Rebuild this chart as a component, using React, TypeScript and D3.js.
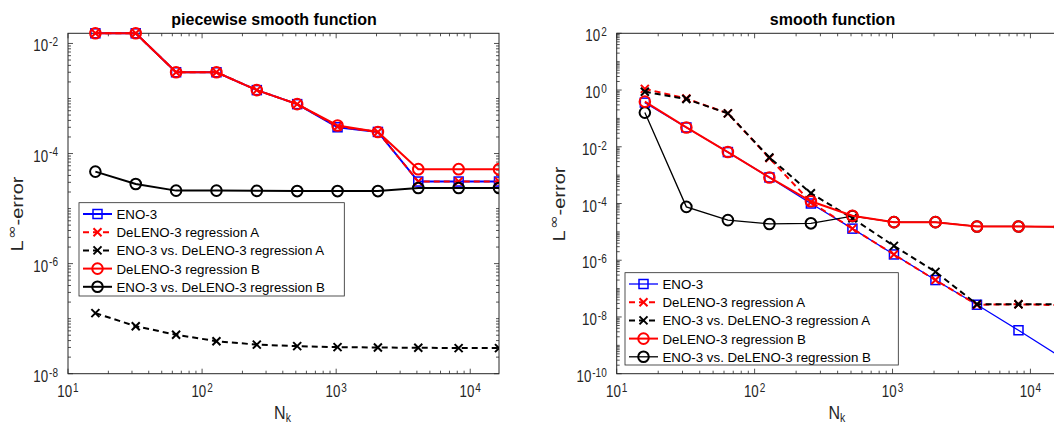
import React, { useEffect, useRef } from 'react';
import * as d3 from 'd3';

const W = 1054;
const H = 427;

const N = [16, 32, 64, 128, 256, 512, 1024, 2048, 4096, 8192, 16384];

const seriesNames = [
  'ENO-3',
  'DeLENO-3 regression A',
  'ENO-3 vs. DeLENO-3 regression A',
  'DeLENO-3 regression B',
  'ENO-3 vs. DeLENO-3 regression B',
];

// piecewise smooth function
const pwEno = [1.53e-2, 1.53e-2, 3.0e-3, 3.0e-3, 1.42e-3, 7.9e-4, 3.0e-4, 2.47e-4, 3.1e-5, 3.1e-5, 3.1e-5];
const pwRegA = [1.53e-2, 1.53e-2, 3.0e-3, 3.0e-3, 1.42e-3, 7.9e-4, 3.1e-4, 2.47e-4, 3.1e-5, 3.1e-5, 3.1e-5];
const pwDiffA = [1.26e-7, 7.3e-8, 5.1e-8, 3.9e-8, 3.37e-8, 3.17e-8, 3.04e-8, 2.99e-8, 2.96e-8, 2.92e-8, 2.92e-8];
const pwRegB = [1.53e-2, 1.53e-2, 3.0e-3, 3.0e-3, 1.42e-3, 7.9e-4, 3.24e-4, 2.47e-4, 5.2e-5, 5.2e-5, 5.2e-5];
const pwDiffB = [4.7e-5, 2.8e-5, 2.12e-5, 2.12e-5, 2.1e-5, 2.08e-5, 2.08e-5, 2.08e-5, 2.37e-5, 2.37e-5, 2.37e-5];

// smooth function
const smEno = [0.36, 0.048, 6.5e-3, 8.3e-4, 1.0e-4, 1.3e-5, 1.6e-6, 2.0e-7, 2.7e-8, 3.4e-9, 4.0e-10];
const smRegA = [1.1, 0.5, 0.15, 4.0e-3, 1.1e-4, 1.3e-5, 1.6e-6, 2.0e-7, 2.7e-8, 2.8e-8, 2.6e-8];
const smDiffA = [0.87, 0.48, 0.15, 4.2e-3, 2.3e-4, 3.0e-5, 3.2e-6, 3.9e-7, 2.8e-8, 2.8e-8, 2.8e-8];
const smRegB = [0.39, 0.048, 6.5e-3, 8.3e-4, 1.2e-4, 3.7e-5, 2.2e-5, 2.2e-5, 1.55e-5, 1.55e-5, 1.5e-5];
const smDiffB = [0.16, 7.6e-5, 2.6e-5, 1.9e-5, 2.0e-5, 3.6e-5, 2.2e-5, 2.2e-5, 1.55e-5, 1.55e-5, 1.5e-5];

const xTicks = [10, 100, 1000, 10000];
const pwYTicks = [1e-8, 1e-6, 1e-4, 1e-2];
const smYTicks = [1e-10, 1e-8, 1e-6, 1e-4, 1e-2, 1, 1e2];

const styles = [
  { color: '#0000ff', dash: null, marker: 'square' },
  { color: '#ff0000', dash: '6,4', marker: 'x' },
  { color: '#000000', dash: '6,4', marker: 'x' },
  { color: '#ff0000', dash: null, marker: 'circle' },
  { color: '#000000', dash: null, marker: 'circle' },
];
// drawing order (red circles on top of black circles)
const drawOrder = [0, 1, 2, 4, 3];

const AX = '#262626';
const FONT = '"Liberation Sans", Arial, Helvetica, sans-serif';

function drawMarker(g, kind, cx, cy, color) {
  if (kind === 'square') {
    g.append('rect').attr('x', cx - 4.5).attr('y', cy - 4.5).attr('width', 9).attr('height', 9)
      .attr('fill', 'none').attr('stroke', color).attr('stroke-width', 1.5);
  } else if (kind === 'circle') {
    g.append('circle').attr('cx', cx).attr('cy', cy).attr('r', 5.3)
      .attr('fill', 'none').attr('stroke', color).attr('stroke-width', 2);
  } else {
    g.append('path').attr('d', `M${cx - 4},${cy - 4}L${cx + 4},${cy + 4}M${cx - 4},${cy + 4}L${cx + 4},${cy - 4}`)
      .attr('fill', 'none').attr('stroke', color).attr('stroke-width', 2);
  }
}

function powLabel(g, x, y, v, anchor) {
  const e = Math.round(Math.log10(v));
  const t = g.append('g').attr('transform', `translate(${x},${y}) scale(1,1.3)`)
    .append('text').attr('text-anchor', anchor).attr('fill', AX)
    .attr('font-family', FONT).attr('font-size', 13.3);
  t.append('tspan').text('10');
  t.append('tspan').attr('font-size', 10).attr('dx', 1).attr('dy', -4).text(String(e));
}

function drawPanel(svg, cfg, idx) {
  const { x0, x1, y0, y1 } = cfg;
  const x = d3.scaleLog().domain([10, 16384]).range([x0, x1]);
  const y = d3.scaleLog().domain(cfg.yDomain).range([y1, y0]);

  const g = svg.append('g');
  const clipId = `clip${idx}`;
  g.append('clipPath').attr('id', clipId).append('rect')
    .attr('x', x0).attr('y', y0 - 8).attr('width', x1 - x0).attr('height', y1 - y0 + 16);

  // ticks
  const tg = g.append('g').attr('stroke', AX).attr('stroke-width', 0.8);
  const minorVals = (dom) => {
    const out = [];
    const k0 = Math.floor(Math.log10(dom[0]));
    const k1 = Math.ceil(Math.log10(dom[1]));
    for (let k = k0; k <= k1; k++) {
      for (let m = 1; m <= 9; m++) {
        const v = m * Math.pow(10, k);
        if (v >= dom[0] * 0.999 && v <= dom[1] * 1.001) out.push(v);
      }
    }
    return out;
  };
  const isMajor = (v, list) => list.some(t => Math.abs(Math.log10(t) - Math.log10(v)) < 1e-6);

  minorVals(x.domain()).forEach(v => {
    const len = isMajor(v, xTicks) ? 5 : 3;
    const px = x(v);
    tg.append('line').attr('x1', px).attr('x2', px).attr('y1', y1).attr('y2', y1 - len);
    tg.append('line').attr('x1', px).attr('x2', px).attr('y1', y0).attr('y2', y0 + len);
  });
  minorVals(y.domain()).forEach(v => {
    const len = isMajor(v, cfg.yTicks) ? 5 : 3;
    const py = y(v);
    tg.append('line').attr('y1', py).attr('y2', py).attr('x1', x0).attr('x2', x0 + len);
    tg.append('line').attr('y1', py).attr('y2', py).attr('x1', x1).attr('x2', x1 - len);
  });

  // box
  g.append('rect').attr('x', x0).attr('y', y0).attr('width', x1 - x0).attr('height', y1 - y0)
    .attr('fill', 'none').attr('stroke', AX).attr('stroke-width', 1);

  xTicks.forEach(v => powLabel(g, x(v), y1 + 23.3, v, 'middle'));
  cfg.yTicks.forEach(v => powLabel(g, x0 - 10, y(v) + 8, v, 'end'));

  // series
  const pg = g.append('g').attr('clip-path', `url(#${clipId})`);
  const line = d3.line().x(d => x(d[0])).y(d => y(d[1]));
  drawOrder.forEach(si => {
    const st = styles[si];
    const pts = N.map((n, i) => [n, cfg.series[si][i]]);
    pg.append('path').attr('d', line(pts)).attr('fill', 'none')
      .attr('stroke', st.color).attr('stroke-width', cfg.widths[si])
      .attr('stroke-dasharray', st.dash);
    pts.forEach(p => drawMarker(pg, st.marker, x(p[0]), y(p[1]), st.color));
  });

  // title
  g.append('text').attr('x', cfg.titleX).attr('y', 25).attr('text-anchor', 'middle')
    .attr('font-family', FONT).attr('font-size', 16).attr('font-weight', 'bold').attr('fill', '#000')
    .text(cfg.title);

  // y label
  const yl = g.append('g').attr('transform', `translate(${cfg.ylabelX},${cfg.ylabelY}) scale(1,1.25) rotate(-90)`)
    .append('text').attr('text-anchor', 'middle').attr('font-family', FONT).attr('font-size', 16).attr('fill', AX);
  yl.append('tspan').text('L');
  yl.append('tspan').attr('font-family', '"DejaVu Sans", sans-serif').attr('font-size', 13)
    .attr('dx', 1).attr('dy', -7).text('∞');
  yl.append('tspan').attr('dy', 7).text('-error');

  // x label
  const xl = g.append('g').attr('transform', `translate(${(x0 + Math.min(x1, W)) / 2 + cfg.xlabelDx},418.5) scale(1,1.2)`)
    .append('text').attr('text-anchor', 'middle').attr('font-family', FONT).attr('font-size', 16).attr('fill', AX);
  xl.append('tspan').text('N');
  xl.append('tspan').attr('font-size', 10.5).attr('dy', 3).text('k');

  // legend
  const L = cfg.legend;
  const lg = g.append('g');
  lg.append('rect').attr('x', L.x).attr('y', L.y).attr('width', L.w).attr('height', L.h)
    .attr('fill', '#fff').attr('stroke', AX).attr('stroke-width', 0.8);
  seriesNames.forEach((name, i) => {
    const st = styles[i];
    const cy = L.y + 11.3 + i * 18.2;
    lg.append('line').attr('x1', L.x + 4).attr('x2', L.x + 33).attr('y1', cy).attr('y2', cy)
      .attr('stroke', st.color).attr('stroke-width', cfg.widths[i]).attr('stroke-dasharray', st.dash);
    drawMarker(lg, st.marker, L.x + 18.5, cy, st.color);
    lg.append('text').attr('x', L.x + 37.5).attr('y', cy + 5).attr('font-family', FONT)
      .attr('font-size', 13.3).attr('fill', '#000').text(name);
  });
}

const App = () => {
  const svgRef = useRef(null);

  useEffect(() => {
    const svg = d3.select(svgRef.current);
    svg.selectAll('*').remove();

    const pwSeries = [pwEno, pwRegA, pwDiffA, pwRegB, pwDiffB];
    const smSeries = [smEno, smRegA, smDiffA, smRegB, smDiffB];

    drawPanel(svg, {
      x0: 68, x1: 499, y0: 33.3, y1: 373.7,
      yDomain: [1e-8, d3.max(pwSeries.flat())],
      yTicks: pwYTicks,
      series: pwSeries,
      title: 'piecewise smooth function',
      titleX: 274,
      ylabelX: 23.3, ylabelY: 214,
      xlabelDx: -1,
      widths: [2, 2, 2, 2, 2],
      legend: { x: 79, y: 202.7, w: 265.3, h: 93.3 },
    }, 0);

    drawPanel(svg, {
      x0: 616.7, x1: 1060, y0: 33.3, y1: 373.7,
      yDomain: [1e-10, 1e2],
      yTicks: smYTicks,
      series: smSeries,
      title: 'smooth function',
      titleX: 832.5,
      ylabelX: 565, ylabelY: 204,
      xlabelDx: 1.5,
      widths: [1.3, 2, 2, 2, 1.3],
      legend: { x: 625, y: 272.7, w: 273.3, h: 92.3 },
    }, 1);
  }, []);

  return (
    <svg ref={svgRef} width={W} height={H}
      style={{ position: 'absolute', left: 0, top: 0, background: '#fff' }} />
  );
};

export default App;
